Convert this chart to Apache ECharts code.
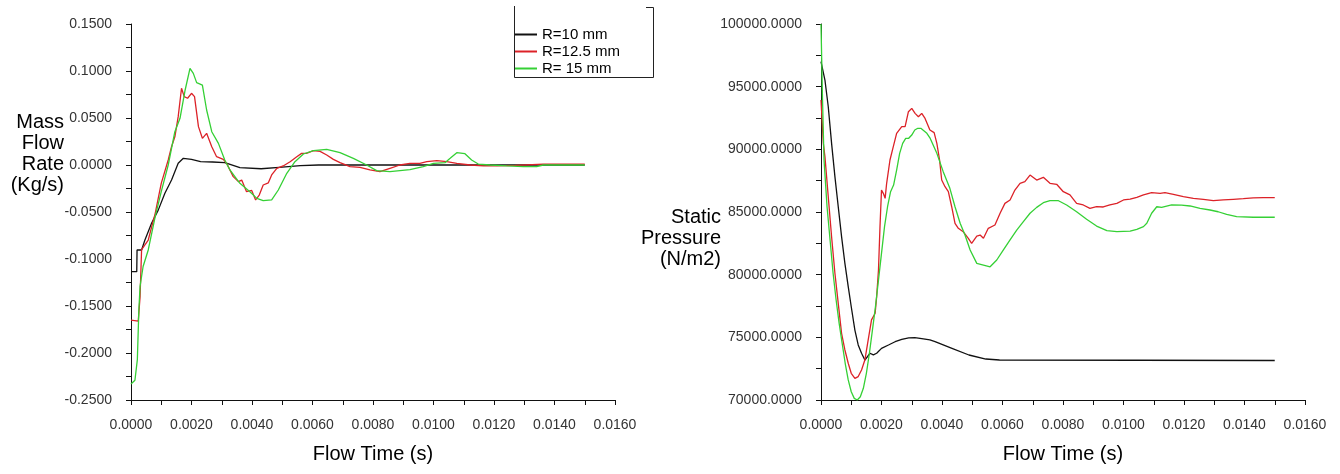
<!DOCTYPE html>
<html>
<head>
<meta charset="utf-8">
<script src="https://cdn.jsdelivr.net/npm/echarts@6/dist/echarts.min.js"></script>
<style>
  html, body { margin: 0; padding: 0; background: #fff; }
  #chart { width: 1340px; height: 474px; }
</style>
</head>
<body>
<div id="chart"></div>
<script>
// series names (legend)
var radii = ['R=10 mm', 'R=12.5 mm', 'R= 15 mm']
var colors = ['#111111', '#dc2228', '#35d035']

// mass flow rate (kg/s) vs flow time (s)
var massR10 = [
  [0, -0.1135], [0.00019, -0.1135], [0.0002, -0.0904], [0.00035, -0.0904], [0.00046, -0.0798],
  [0.00068, -0.062], [0.0009, -0.048], [0.00112, -0.030], [0.00134, -0.016], [0.00156, 0.0018],
  [0.00173, 0.0071], [0.002, 0.006], [0.0023, 0.0035], [0.0027, 0.0032], [0.0031, 0.0025],
  [0.0036, -0.0028], [0.0043, -0.004], [0.0049, -0.0025], [0.0056, -0.0007], [0.0062, 0],
  [0.008, 0], [0.010, 0], [0.012, 0], [0.015, 0]
]
var massR125 = [
  [0, -0.165], [0.00024, -0.166], [0.0003, -0.14], [0.00035, -0.090], [0.00057, -0.0798],
  [0.0008, -0.0514], [0.001, -0.0195], [0.00123, 0.0053], [0.00134, 0.0195], [0.00145, 0.030],
  [0.00156, 0.0514], [0.00167, 0.0816], [0.00176, 0.0727], [0.00187, 0.071], [0.002, 0.0763],
  [0.0021, 0.0727], [0.00223, 0.0408], [0.00236, 0.0284], [0.0025, 0.0337], [0.00267, 0.0195],
  [0.00283, 0.0088], [0.00305, 0.006], [0.00316, 0.0018], [0.00338, -0.0124], [0.00355, -0.0177],
  [0.00366, -0.016], [0.00382, -0.0284], [0.00399, -0.027], [0.00412, -0.0372], [0.00424, -0.032],
  [0.00437, -0.0213], [0.00454, -0.019], [0.00465, -0.0106], [0.00482, -0.0035], [0.00503, -0.001],
  [0.00526, 0.0035], [0.00548, 0.0088], [0.00564, 0.0124], [0.0058, 0.0124], [0.00603, 0.0152],
  [0.00625, 0.0145], [0.00647, 0.0106], [0.00669, 0.006], [0.00691, 0.0025], [0.00724, -0.0018],
  [0.00757, -0.0025], [0.0079, -0.0053], [0.00823, -0.007], [0.00856, -0.0035], [0.00889, 0],
  [0.00922, 0.0018], [0.00955, 0.0018], [0.00978, 0.0035], [0.01011, 0.0046], [0.01044, 0.0035],
  [0.01077, 0.0018], [0.01121, 0], [0.01165, -0.001], [0.01209, -0.001], [0.0127, -0.0005],
  [0.01363, 0.001], [0.015, 0.001]
]
var massR15 = [
  [0, -0.233], [0.00013, -0.229], [0.00021, -0.207], [0.00026, -0.154], [0.0003, -0.129],
  [0.0004, -0.108], [0.00057, -0.0904], [0.0008, -0.055], [0.001, -0.0284], [0.00123, 0.0],
  [0.00145, 0.0354], [0.00162, 0.0497], [0.00179, 0.0798], [0.00195, 0.1029], [0.00206, 0.0975],
  [0.00217, 0.0876], [0.00236, 0.085], [0.0025, 0.0585], [0.00267, 0.0354], [0.00289, 0.023],
  [0.0031, 0.0053], [0.00327, -0.0053], [0.0036, -0.0195], [0.00393, -0.0284], [0.00416, -0.0355],
  [0.00437, -0.038], [0.00465, -0.037], [0.00487, -0.0266], [0.00515, -0.0088], [0.00542, 0.0035],
  [0.0057, 0.0117], [0.00603, 0.0152], [0.00647, 0.0167], [0.00691, 0.0131], [0.00735, 0.0071],
  [0.00779, 0], [0.00812, -0.006], [0.00856, -0.007], [0.00922, -0.005], [0.00966, -0.0018],
  [0.01, 0.0018], [0.01038, 0.0025], [0.01055, 0.0071], [0.01077, 0.0131], [0.01104, 0.012],
  [0.01126, 0.0053], [0.01148, 0.001], [0.01187, 0], [0.01242, -0.001], [0.01297, -0.0018],
  [0.01341, -0.0018], [0.01363, 0], [0.015, 0]
]

// static pressure (N/m2) vs flow time (s)
var pressR10 = [
  [0, 96990], [0.00013, 95530], [0.00024, 93400], [0.00035, 90480], [0.00046, 87820],
  [0.00057, 85420], [0.00068, 83030], [0.00079, 80900], [0.0009, 79040], [0.001, 77440],
  [0.00112, 75580], [0.00123, 74390], [0.00134, 73730], [0.00145, 73190], [0.0015, 73190],
  [0.00162, 73730], [0.00173, 73600], [0.00184, 73730], [0.002, 74120], [0.00223, 74390],
  [0.00245, 74650], [0.00267, 74830], [0.0029, 74960], [0.0031, 74980], [0.00333, 74900],
  [0.0036, 74790], [0.00377, 74650], [0.00433, 74120], [0.00489, 73590], [0.00545, 73270],
  [0.0059, 73190], [0.015, 73150]
]
var pressR125 = [
  [0, 93940], [0.000077, 90480], [0.00013, 89420], [0.00024, 86220], [0.00035, 83030],
  [0.00046, 80110], [0.00057, 77710], [0.00068, 75320], [0.00079, 73990], [0.0009, 72930],
  [0.001, 72130], [0.00112, 71730], [0.00123, 71870], [0.00134, 72400], [0.00145, 73190],
  [0.00156, 74790], [0.00167, 76390], [0.00179, 76920], [0.00184, 78240], [0.0019, 80370],
  [0.00195, 83830], [0.002, 86750], [0.00206, 86490], [0.00212, 86090], [0.00217, 87290],
  [0.00228, 89150], [0.00239, 90220], [0.0025, 91280], [0.00267, 91810], [0.00278, 91810],
  [0.00289, 93000], [0.003, 93270], [0.00311, 92870], [0.00322, 92600], [0.00333, 92870],
  [0.00344, 92470], [0.0036, 91540], [0.00374, 91330], [0.00383, 90480], [0.00392, 89150],
  [0.00399, 87550], [0.0041, 87020], [0.00421, 86620], [0.00432, 85420], [0.00443, 84100],
  [0.00454, 83700], [0.0047, 83430], [0.00487, 82900], [0.00498, 82500], [0.00515, 83080],
  [0.00526, 83160], [0.00537, 82900], [0.00553, 83700], [0.00575, 83960], [0.00592, 84900],
  [0.00608, 85690], [0.00625, 85960], [0.00641, 86750], [0.00658, 87290], [0.00674, 87420],
  [0.00691, 87950], [0.00713, 87550], [0.00735, 87770], [0.00757, 87290], [0.00779, 87210],
  [0.00801, 86620], [0.00823, 86360], [0.00845, 85690], [0.00867, 85560], [0.00889, 85290],
  [0.00911, 85430], [0.00933, 85400], [0.00955, 85560], [0.00978, 85690], [0.01, 85960],
  [0.01022, 86020], [0.01044, 86170], [0.01066, 86360], [0.01093, 86540], [0.01121, 86490],
  [0.01137, 86540], [0.01165, 86410], [0.01198, 86220], [0.01231, 86090], [0.01264, 86010],
  [0.01297, 85900], [0.0133, 85960], [0.01363, 86010], [0.01396, 86060], [0.01429, 86120],
  [0.01462, 86140], [0.015, 86140]
]
var pressR15 = [
  [0, 100000], [0.00005, 94000], [0.0001, 89150], [0.0002, 85420], [0.0003, 82770],
  [0.0004, 80110], [0.0005, 77980], [0.0006, 76120], [0.0007, 74520], [0.0008, 72930],
  [0.0009, 71600], [0.001, 70660], [0.0011, 70130], [0.0012, 70000], [0.0013, 70260],
  [0.0014, 70930], [0.0015, 72130], [0.0016, 73730], [0.0017, 75580], [0.0018, 77440],
  [0.0019, 79570], [0.002, 81700], [0.0021, 83830], [0.0022, 85420], [0.0023, 86620],
  [0.0024, 87150], [0.0025, 88350], [0.0026, 89680], [0.0027, 90480], [0.0028, 90880],
  [0.0029, 90880], [0.003, 91140], [0.0031, 91540], [0.0032, 91680], [0.0033, 91680],
  [0.0034, 91490], [0.0035, 91280], [0.0036, 90920], [0.00383, 89680], [0.00404, 88220],
  [0.00426, 86890], [0.00443, 85420], [0.0046, 84100], [0.00476, 83160], [0.00493, 81970],
  [0.00515, 80900], [0.00537, 80770], [0.00559, 80630], [0.00581, 81170], [0.00603, 81970],
  [0.00625, 82770], [0.00647, 83560], [0.00669, 84230], [0.00691, 84900], [0.00713, 85370],
  [0.00735, 85740], [0.00757, 85900], [0.00785, 85900], [0.00812, 85560], [0.00845, 85020],
  [0.00878, 84420], [0.00911, 83880], [0.00945, 83510], [0.00978, 83430], [0.01022, 83480],
  [0.01044, 83620], [0.01066, 83830], [0.01077, 84100], [0.01093, 84900], [0.0111, 85420],
  [0.01126, 85370], [0.01159, 85560], [0.01192, 85550], [0.0122, 85480], [0.01253, 85290],
  [0.01286, 85160], [0.01313, 85020], [0.01341, 84810], [0.01374, 84630], [0.01429, 84580],
  [0.015, 84580]
]

var FONT = '"Liberation Sans", Arial, sans-serif'

function tickStyle() {
  return {
    axisLine: { show: true, onZero: false, lineStyle: { color: '#111', width: 1 } },
    axisTick: { show: true, length: 5, lineStyle: { color: '#111' } },
    minorTick: { show: true, splitNumber: 2, length: 5, lineStyle: { color: '#111' } },
    splitLine: { show: false },
    axisLabel: {
      fontSize: 14, fontFamily: FONT, color: '#333', margin: 18,
      formatter: function (v) { return v.toFixed(4) }
    }
  }
}

function xAxisFor(idx) {
  var a = tickStyle()
  a.type = 'value'
  a.gridIndex = idx
  a.min = 0
  a.max = 0.016
  a.interval = 0.002
  a.name = 'Flow Time (s)'
  a.nameLocation = 'middle'
  a.nameGap = 44
  a.nameTextStyle = { fontSize: 20, fontFamily: FONT, color: '#000' }
  return a
}

function yAxisFor(idx, min, max, interval) {
  var a = tickStyle()
  a.type = 'value'
  a.gridIndex = idx
  a.min = min
  a.max = max
  a.interval = interval
  a.axisLabel.margin = 19
  return a
}

function line(name, color, data, idx) {
  return {
    name: name, type: 'line', data: data,
    xAxisIndex: idx, yAxisIndex: idx,
    symbol: 'none', smooth: false,
    lineStyle: { color: color, width: 1.3 },
    itemStyle: { color: color }
  }
}

var chart = echarts.init(document.getElementById('chart'))
chart.setOption({
  animation: false,
  backgroundColor: '#fff',
  grid: [
    { left: 131, top: 24, width: 484, height: 376 },
    { left: 821, top: 24, width: 484, height: 376 }
  ],
  xAxis: [xAxisFor(0), xAxisFor(1)],
  yAxis: [yAxisFor(0, -0.25, 0.15, 0.05), yAxisFor(1, 70000, 100000, 5000)],
  legend: {
    data: radii, orient: 'vertical', left: 515, top: 26, padding: 0,
    itemGap: 0, itemWidth: 22, itemHeight: 2, icon: 'rect',
    textStyle: { fontSize: 15, fontFamily: FONT, color: '#000', lineHeight: 17 }
  },
  graphic: [
    {
      type: 'polyline',
      shape: { points: [[646, 7.5], [653.5, 7.5], [653.5, 77.5], [514.5, 77.5], [514.5, 6]] },
      style: { stroke: '#222', fill: null, lineWidth: 1 }
    },
    {
      type: 'text', x: 64, y: 154,
      style: {
        text: 'Mass\nFlow\nRate\n(Kg/s)', align: 'right', verticalAlign: 'middle',
        fontSize: 20, fontFamily: FONT, lineHeight: 21, fill: '#000'
      }
    },
    {
      type: 'text', x: 721, y: 238,
      style: {
        text: 'Static\nPressure\n(N/m2)', align: 'right', verticalAlign: 'middle',
        fontSize: 20, fontFamily: FONT, lineHeight: 21, fill: '#000'
      }
    }
  ],
  series: [
    line(radii[0], colors[0], massR10, 0),
    line(radii[1], colors[1], massR125, 0),
    line(radii[2], colors[2], massR15, 0),
    line(radii[0], colors[0], pressR10, 1),
    line(radii[1], colors[1], pressR125, 1),
    line(radii[2], colors[2], pressR15, 1)
  ]
})
</script>
</body>
</html>
